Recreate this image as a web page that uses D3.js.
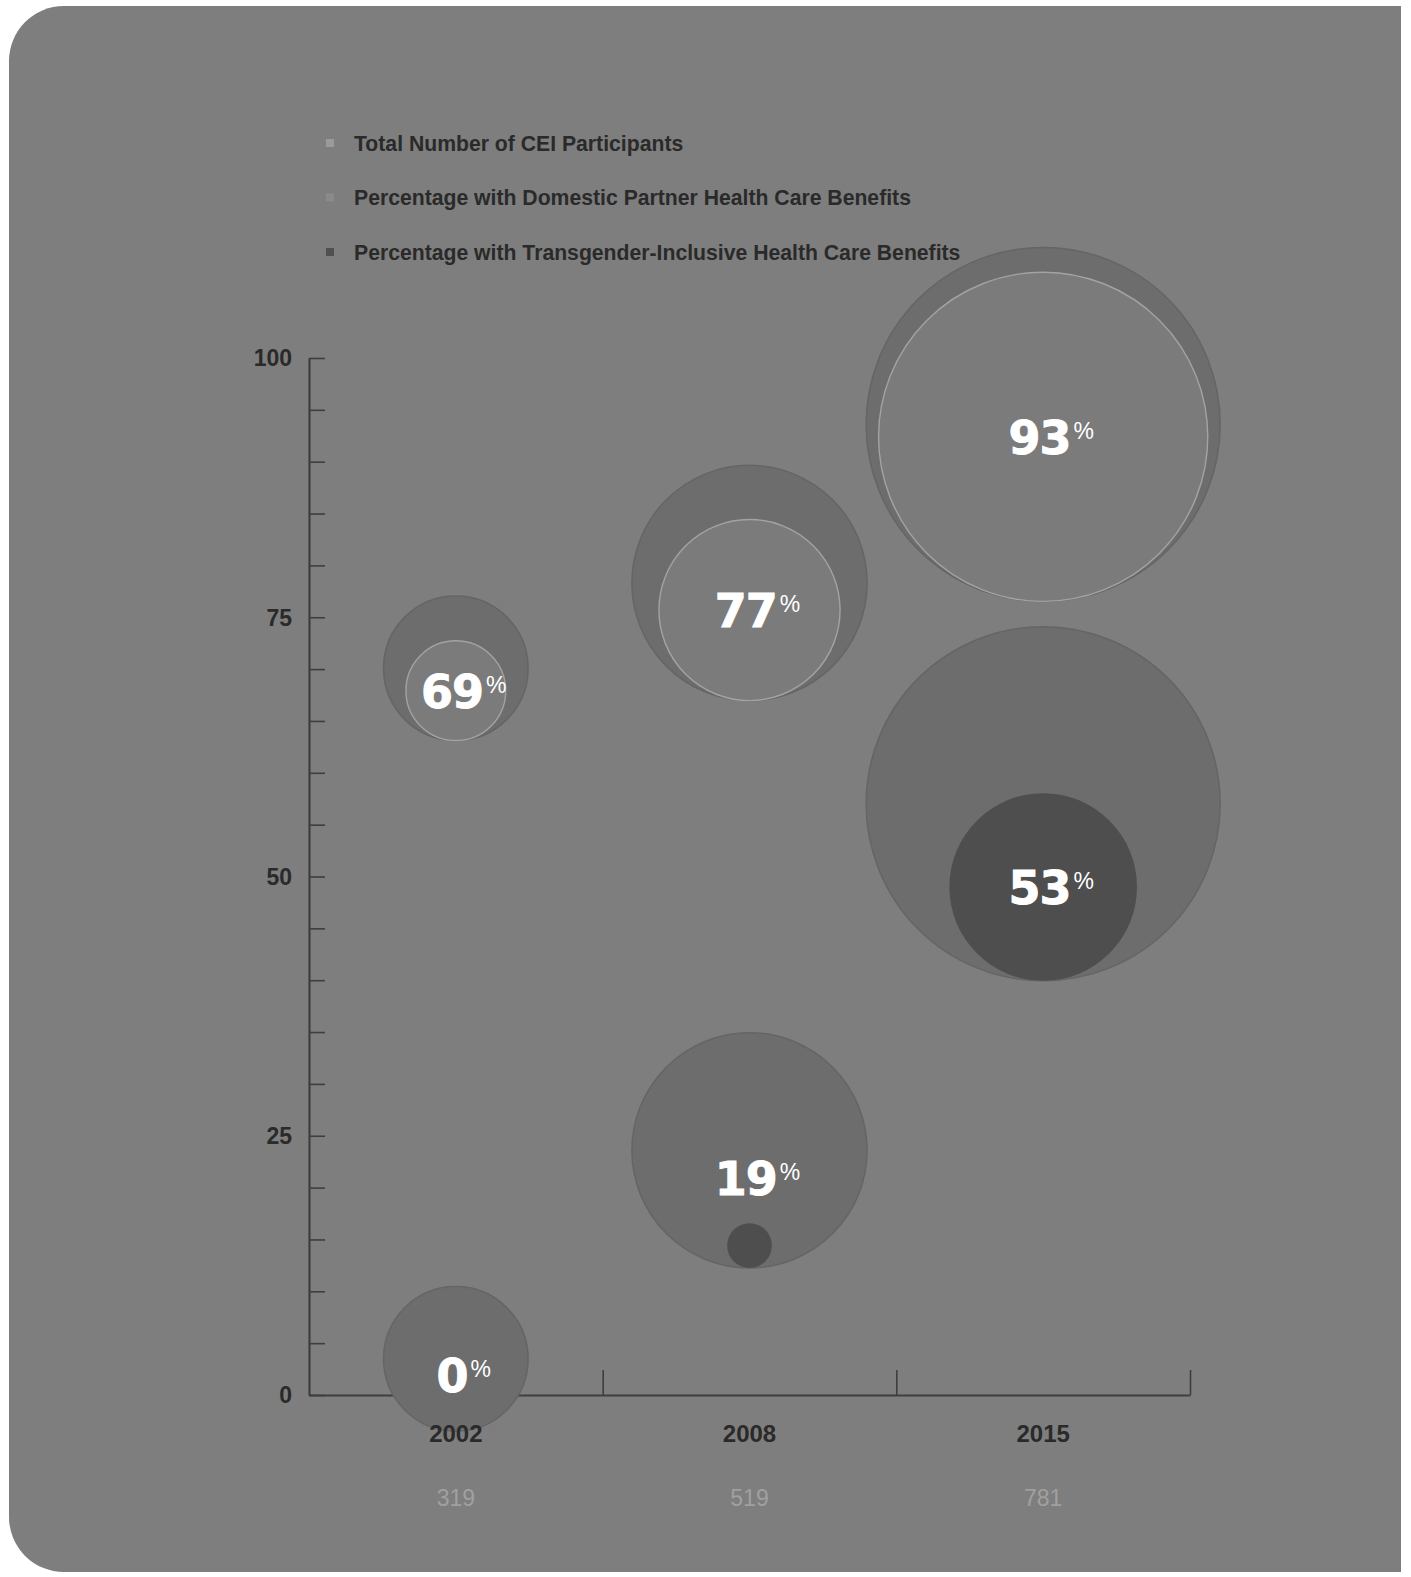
<!DOCTYPE html>
<html>
<head>
<meta charset="utf-8">
<script src="https://cdn.jsdelivr.net/npm/d3@7"></script>
<style>
  html, body { margin: 0; padding: 0; background: #ffffff; }
  svg { display: block; }
</style>
</head>
<body>
<svg id="chart" width="1411" height="1577"></svg>
<script>
// CEI participation and benefit coverage by survey year
const years = ["2002", "2008", "2015"];
const participants = [319, 519, 781];
const domesticPartnerPct = [69, 77, 93];
const transInclusivePct = [0, 19, 53];
const yTickLabels = [0, 25, 50, 75, 100];
const legendLabels = [
  "Total Number of CEI Participants",
  "Percentage with Domestic Partner Health Care Benefits",
  "Percentage with Transgender-Inclusive Health Care Benefits"
];

const colors = {
  panel: "#7e7e7e",
  total: "#6d6d6d",
  domestic: "#7b7b7b",
  domesticEdge: "#a3a3a3",
  trans: "#4e4e4e",
  ink: "#2a2a2a",
  axis: "#3e3e3e",
  count: "#a0a0a0"
};
const legendColors = ["#9a9a9a", "#8a8a8a", "#505050"];

const svg = d3.select("#chart");

// rounded panel (left corners rounded)
const P = { x0: 9, y0: 6, x1: 1401, y1: 1572, r: 55 };
svg.append("path")
  .attr("d", `M${P.x0 + P.r},${P.y0} H${P.x1} V${P.y1} H${P.x0 + P.r}
    A${P.r},${P.r} 0 0 1 ${P.x0},${P.y1 - P.r} V${P.y0 + P.r}
    A${P.r},${P.r} 0 0 1 ${P.x0 + P.r},${P.y0} Z`)
  .attr("fill", colors.panel);

// scales
const plot = { left: 309, right: 1190, top: 358, bottom: 1395 };
const x = d3.scaleBand().domain(years).range([plot.left, plot.right]).padding(0);
const xEdges = d3.scaleLinear().domain([0, years.length]).range([plot.left, plot.right]);
const y = d3.scaleLinear().domain([0, 100]).range([plot.bottom, plot.top]);
const r = d3.scaleLinear().domain([0, d3.max(participants)]).range([0, 177]);

// y axis: line with minor ticks every 5 points, pointing right
const yAxis = svg.append("g")
  .attr("transform", `translate(${plot.left},0)`)
  .call(d3.axisRight(y).tickValues(d3.range(0, 101, 5)).tickSize(16).tickSizeOuter(0).tickFormat(""));
yAxis.select(".domain").attr("stroke", colors.axis).attr("stroke-width", 2.2);
yAxis.selectAll(".tick line").attr("stroke", colors.axis).attr("stroke-width", 1.6);

svg.append("g").selectAll("text")
  .data(yTickLabels)
  .join("text")
  .attr("x", 292)
  .attr("y", d => y(d))
  .attr("dy", "0.36em")
  .attr("text-anchor", "end")
  .attr("font-family", "'Liberation Sans', Arial, sans-serif")
  .attr("font-weight", 700)
  .attr("font-size", 23)
  .attr("fill", colors.ink)
  .text(d => d);

// x axis: baseline with upward ticks at band edges
const xAxis = svg.append("g")
  .attr("transform", `translate(0,${plot.bottom})`)
  .call(d3.axisTop(xEdges).tickValues(d3.range(1, years.length + 1)).tickSize(25).tickSizeOuter(0).tickFormat(""));
xAxis.select(".domain").attr("stroke", colors.axis).attr("stroke-width", 2.2);
xAxis.selectAll(".tick line").attr("stroke", colors.axis).attr("stroke-width", 1.6);

// bubble groups: outer circle = participants, inner circle = share with a benefit.
// inner circle rests on the bottom of the outer one; the pair is anchored at y(pct)
function bubble(i, pct, innerFill, innerStroke) {
  const cx = x(years[i]) + x.bandwidth() / 2;
  const R = r(participants[i]);
  const ri = R * pct / 100;
  const anchor = y(pct);
  const cy = anchor - (R - ri) / 2;
  const icy = cy + R - ri;
  const g = svg.append("g");
  g.append("circle")
    .attr("cx", cx).attr("cy", cy).attr("r", R)
    .attr("fill", colors.total)
    .attr("stroke", "#656565").attr("stroke-width", 1.5);
  if (ri > 0) {
    g.append("circle")
      .attr("cx", cx).attr("cy", icy).attr("r", ri)
      .attr("fill", innerFill)
      .attr("stroke", innerStroke || "none")
      .attr("stroke-width", innerStroke ? 1.4 : 0);
  }
  const big = ri >= 40;
  const label = g.append("text")
    .attr("x", cx + 8)
    .attr("y", big ? icy + 17 : anchor - 3)
    .attr("text-anchor", "middle")
    .attr("fill", "#ffffff");
  label.append("tspan")
    .attr("font-family", "'DejaVu Sans', sans-serif")
    .attr("font-weight", 700)
    .attr("font-size", 46)
    .attr("letter-spacing", -1)
    .attr("stroke", "#ffffff")
    .attr("stroke-width", 0.9)
    .text(pct);
  label.append("tspan")
    .attr("dx", 3)
    .attr("dy", -15)
    .attr("font-family", "'Liberation Sans', Arial, sans-serif")
    .attr("font-size", 23)
    .text("%");
}

domesticPartnerPct.forEach((p, i) => bubble(i, p, colors.domestic, colors.domesticEdge));
transInclusivePct.forEach((p, i) => bubble(i, p, colors.trans, null));

// year labels and participant counts under the axis
svg.append("g").selectAll("text")
  .data(years)
  .join("text")
  .attr("x", d => x(d) + x.bandwidth() / 2)
  .attr("y", 1433)
  .attr("dy", "0.36em")
  .attr("text-anchor", "middle")
  .attr("font-family", "'Liberation Sans', Arial, sans-serif")
  .attr("font-weight", 700)
  .attr("font-size", 24)
  .attr("fill", colors.ink)
  .text(d => d);

svg.append("g").selectAll("text")
  .data(participants)
  .join("text")
  .attr("x", (d, i) => x(years[i]) + x.bandwidth() / 2)
  .attr("y", 1498)
  .attr("dy", "0.36em")
  .attr("text-anchor", "middle")
  .attr("font-family", "'Liberation Sans', Arial, sans-serif")
  .attr("font-size", 23)
  .attr("fill", colors.count)
  .text(d => d);

// legend
const legend = svg.append("g").attr("transform", "translate(330,143)");
const items = legend.selectAll("g")
  .data(legendLabels)
  .join("g")
  .attr("transform", (d, i) => `translate(0,${i * 54.5})`);
items.append("rect")
  .attr("x", -4).attr("y", -4).attr("width", 8).attr("height", 8)
  .attr("fill", (d, i) => legendColors[i]);
items.append("text")
  .attr("x", 24)
  .attr("dy", "0.36em")
  .attr("font-family", "'Liberation Sans', Arial, sans-serif")
  .attr("font-weight", 700)
  .attr("font-size", 21.2)
  .attr("fill", colors.ink)
  .text(d => d);
</script>
</body>
</html>
